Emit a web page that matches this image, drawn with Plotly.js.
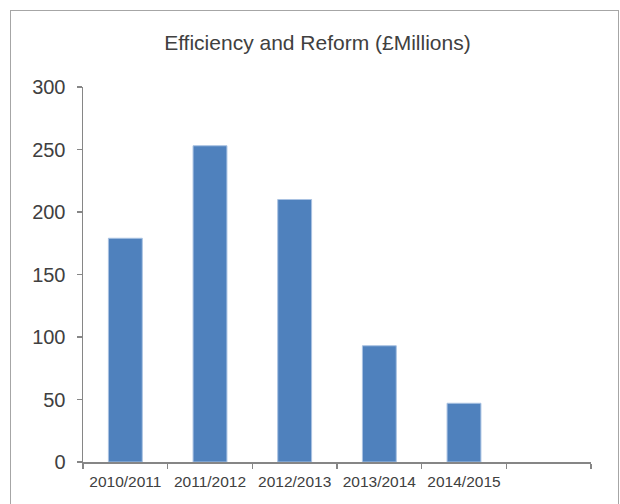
<!DOCTYPE html>
<html>
<head>
<meta charset="utf-8">
<script src="https://cdn.plot.ly/plotly-3.0.1.min.js"></script>
<style>
  html, body { margin: 0; padding: 0; background: #ffffff; }
  #wrap { position: relative; width: 620px; height: 504px; overflow: hidden; }
  #chart { position: absolute; left: 0; top: 0; width: 620px; height: 504px; }
  #frame { position: absolute; left: 10px; top: 10px; width: 607px; height: 520px;
           border: 1px solid #a6a6a6; pointer-events: none; }
</style>
</head>
<body>
<div id="wrap">
  <div id="chart"></div>
  <div id="frame"></div>
</div>
<script>
// Data
const categories = ['2010/2011', '2011/2012', '2012/2013', '2013/2014', '2014/2015', ' '];
const values = [179, 253, 210, 93, 47, null];
const yTicks = [0, 50, 100, 150, 200, 250, 300];
const chartTitle = 'Efficiency and Reform (£Millions)';

const axisColor = '#868686';
const textColor = '#404040';

const trace = {
  type: 'bar',
  x: categories,
  y: values,
  marker: { color: '#4F81BD', line: { color: '#a9c2e2', width: 1 } },
  hoverinfo: 'x+y'
};

const layout = {
  width: 620,
  height: 504,
  margin: { l: 83, r: 29, t: 87, b: 42, pad: 0 },
  paper_bgcolor: '#ffffff',
  plot_bgcolor: '#ffffff',
  font: { family: '"Liberation Sans", Arial, sans-serif', color: textColor },
  showlegend: false,
  bargap: 0.6,
  title: {
    text: chartTitle,
    font: { size: 21, color: textColor },
    xref: 'container', x: 0.512, xanchor: 'center',
    yref: 'container', y: 1 - 43 / 504, yanchor: 'middle'
  },
  xaxis: {
    type: 'category',
    categoryorder: 'array',
    categoryarray: categories,
    range: [-0.5, categories.length - 0.5],
    showline: true, linecolor: axisColor, linewidth: 1.5,
    ticks: 'outside', tickson: 'boundaries', ticklen: 5, tickcolor: axisColor, tickwidth: 1.5,
    showgrid: false, zeroline: false,
    tickfont: { size: 15.5, color: textColor },
    ticklabelstandoff: 5,
    fixedrange: true
  },
  yaxis: {
    range: [0, 300],
    tickvals: yTicks,
    ticktext: yTicks.map(String),
    showline: true, linecolor: axisColor, linewidth: 1.5,
    ticks: 'outside', ticklen: 5, tickcolor: axisColor, tickwidth: 1.5,
    showgrid: false, zeroline: false,
    tickfont: { size: 20, color: textColor },
    ticklabelstandoff: 7,
    fixedrange: true
  }
};

Plotly.newPlot('chart', [trace], layout, { displayModeBar: false, staticPlot: true });
</script>
</body>
</html>
